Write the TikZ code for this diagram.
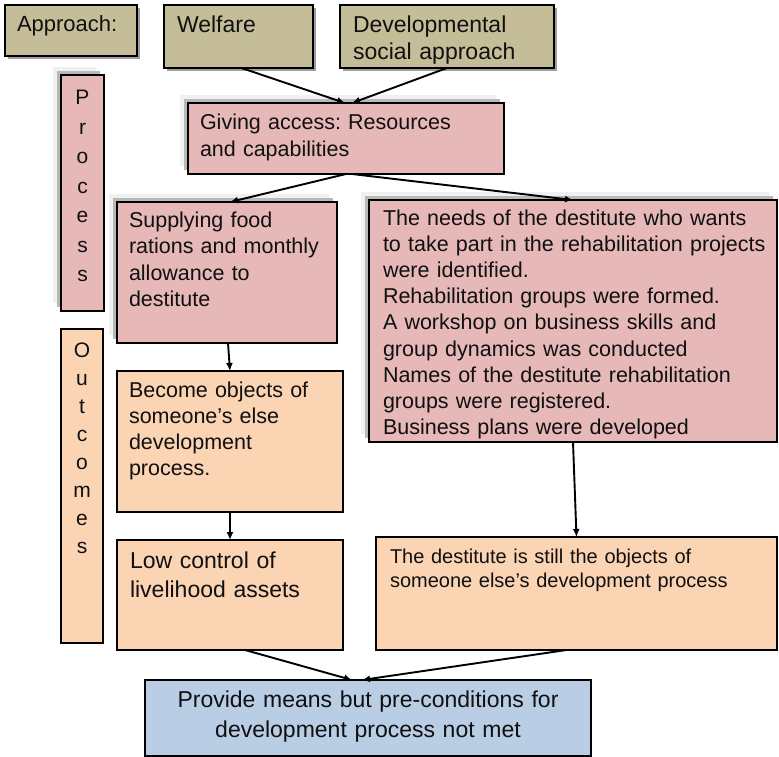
\documentclass[tikz,border=0pt]{standalone}
\usepackage{fontspec}
\setmainfont{Liberation Sans}
\frenchspacing
\usetikzlibrary{arrows.meta,calc,shadows}

\definecolor{tanfill}{HTML}{C4BD97}
\definecolor{rosefill}{HTML}{E6B9B8}
\definecolor{peachfill}{HTML}{FBD4B4}
\definecolor{skyfill}{HTML}{B9CDE5}
\definecolor{ink}{HTML}{101010}

\tikzset{
  box/.style={draw=black, line width=1.7pt, inner sep=0pt, outer sep=0pt, anchor=north west},
  tanbox/.style={box, fill=tanfill,
    general shadow={fill=gray!75, shadow xshift=3pt, shadow yshift=-3pt}},
  rosebox/.style={box, fill=rosefill,
    general shadow={fill=gray!12, shadow xshift=-8pt, shadow yshift=8pt},
    general shadow={fill=gray!55, shadow xshift=-4pt, shadow yshift=4pt}},
  peachbox/.style={box, fill=peachfill},
  skybox/.style={box, fill=skyfill},
  txt/.style={anchor=base west, inner sep=0pt, outer sep=0pt, align=left, text=ink},
  letters/.style={anchor=base, inner sep=0pt, outer sep=0pt, align=center, text width=30pt, text=ink},
  link/.style={draw=black, line width=1.9pt, -{Latex[length=8pt,width=7pt]}},
}

\begin{document}
\begin{tikzpicture}[x=1pt, y=-1pt]
\useasboundingbox (0,0) rectangle (779,757);

% approach row
\node[tanbox, minimum width=132pt, minimum height=51pt] (approach) at (5,5) {};
\node[tanbox, minimum width=149pt, minimum height=63pt] (welfare) at (164,5) {};
\node[tanbox, minimum width=214pt, minimum height=63pt] (devsocial) at (340,5) {};
\node[txt, font=\fontsize{22}{27}\selectfont, text width=120pt] (t-approach) at (17,32) {Approach:};
\node[txt, font=\fontsize{23}{27}\selectfont, text width=130pt] (t-welfare) at (177,33) {Welfare};
\node[txt, font=\fontsize{23}{27}\selectfont, text width=200pt] (t-devsocial) at (353,33) {Developmental\\social approach};

% side labels
\node[rosebox, minimum width=43pt, minimum height=236pt] (process) at (61,75) {};
\node[letters, font=\fontsize{21}{29.5}\selectfont] (t-process) at (process.north |- 0,105)
  {P\\r\\o\\c\\e\\s\\s};
\node[peachbox, minimum width=42pt, minimum height=314pt] (outcomes) at (61,329) {};
\node[letters, font=\fontsize{21}{28}\selectfont] (t-outcomes) at (outcomes.north |- 0,357)
  {O\\u\\t\\c\\o\\m\\e\\s};

% process row
\node[rosebox, minimum width=316pt, minimum height=71pt] (giving) at (188,103) {};
\node[txt, font=\fontsize{21.5}{27}\selectfont, text width=300pt] (t-giving) at (200,130)
  {Giving access: Resources\\and capabilities};
\node[rosebox, minimum width=220pt, minimum height=141pt] (supply) at (117,202) {};
\node[txt, font=\fontsize{21.5}{26.5}\selectfont, text width=205pt] (t-supply) at (129,227)
  {Supplying food\\rations and monthly\\allowance to\\destitute};
\node[rosebox, minimum width=408pt, minimum height=242pt] (needs) at (369,200) {};
\node[txt, font=\fontsize{21.5}{26.2}\selectfont, text width=390pt] (t-needs) at (383,225)
  {The needs of the destitute who wants\\
   to take part in the rehabilitation projects\\
   were identified.\\
   Rehabilitation groups were formed.\\
   A workshop on business skills and\\
   group dynamics was conducted\\
   Names of the destitute rehabilitation\\
   groups were registered.\\
   Business plans were developed};

% outcome row
\node[peachbox, minimum width=226pt, minimum height=141pt] (become) at (117,371) {};
\node[txt, font=\fontsize{21.5}{26.3}\selectfont, text width=210pt] (t-become) at (129,397)
  {Become objects of\\someone’s else\\development\\process.};
\node[peachbox, minimum width=226pt, minimum height=110pt] (lowctrl) at (117,540) {};
\node[txt, font=\fontsize{23}{29}\selectfont, text width=210pt] (t-lowctrl) at (130,568)
  {Low control of\\livelihood assets};
\node[peachbox, minimum width=401pt, minimum height=113pt] (still) at (376,537) {};
\node[txt, font=\fontsize{20}{24.5}\selectfont, text width=385pt] (t-still) at (390,563)
  {The destitute is still the objects of\\someone else’s development process};

% result
\node[skybox, minimum width=446pt, minimum height=76pt] (provide) at (145,680) {};
\node[letters, font=\fontsize{23}{30}\selectfont, text width=430pt] (t-provide) at (368,707)
  {Provide means but pre-conditions for\\development process not met};

% connectors
\draw[link] ($(welfare.south)+(3,0)$) -- ($(giving.north)+(-1,0)$);
\draw[link] (devsocial.south) -- ($(giving.north)+(6,0)$);
\draw[link] (giving.south) -- ($(supply.north)+(3,0)$);
\draw[link] ($(giving.south)+(6,0)$) -- (needs.north);
\draw[link] ($(supply.south)+(1,0)$) -- (become.north);
\draw[link] (become.south) -- (lowctrl.north);
\draw[link] (needs.south) -- (still.north);
\draw[link] ($(lowctrl.south)+(15,0)$) -- ($(provide.north)+(-16,0)$);
\draw[link] ($(still.south)+(-10,0)$) -- ($(provide.north)+(-6,0)$);
\end{tikzpicture}
\end{document}
